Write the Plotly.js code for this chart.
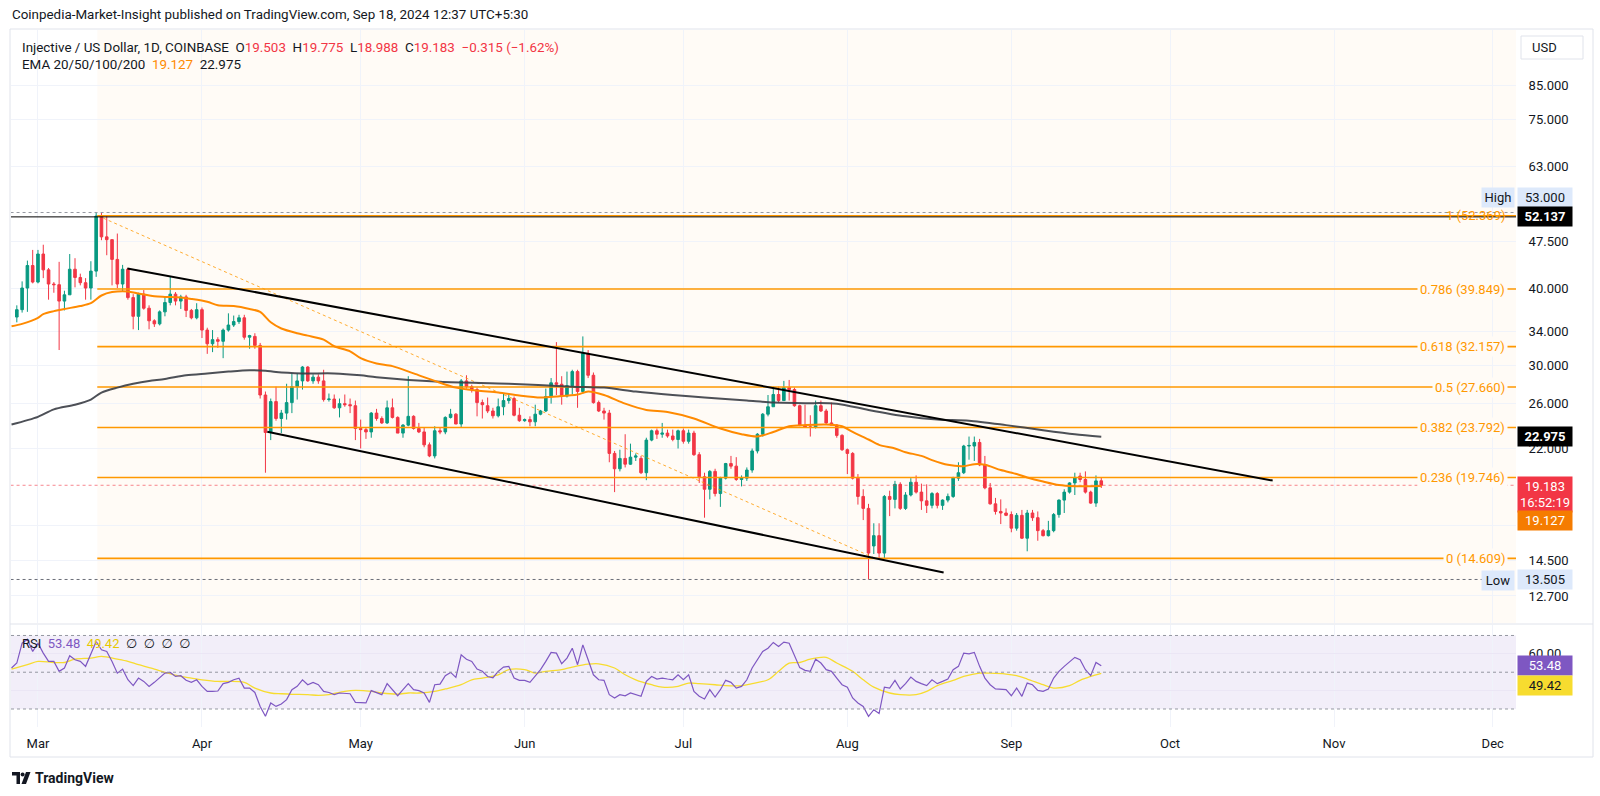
<!DOCTYPE html>
<html>
<head>
<meta charset="utf-8">
<script src="https://cdn.plot.ly/plotly-3.0.1.min.js"></script>
<style>html,body{margin:0;padding:0;background:#fff;}#chart{width:1600px;height:796px;}</style>
</head>
<body>
<div id="chart"></div>
<script>
// ---------------- DATA ----------------
const firstCandleDate = '2024-02-26';
const open = [
35.9,36.9,40.0,43.5,40.9,45.4,42.8,40.6,40.5,38.1,
39.0,42.9,41.6,40.8,40.0,42.6,52.3,48.4,47.9,44.5,
40.6,42.9,38.6,36.0,39.1,37.1,35.4,35.0,36.6,37.9,
39.1,38.1,38.7,36.8,35.8,36.9,34.2,32.5,33.0,32.8,
34.2,34.85,35.3,35.8,33.3,33.4,32.3,26.85,23.35,26.2,
24.6,25.1,26.1,27.7,28.3,29.8,28.3,28.7,28.3,26.4,
26.45,25.6,26.0,25.9,25.8,23.7,23.6,23.4,25.1,24.6,
24.2,25.6,24.7,23.3,24.0,24.8,23.7,23.4,22.3,21.4,
23.5,23.4,24.7,25.0,24.1,28.3,27.7,27.4,26.1,25.8,
25.3,24.85,25.7,26.3,26.5,24.9,24.4,24.5,24.3,25.0,
25.3,26.7,28.1,27.95,26.75,27.8,29.3,27.2,31.35,28.9,
26.1,25.3,25.1,21.6,20.4,21.2,20.75,21.3,21.2,20.1,
22.7,23.5,23.2,23.3,23.05,22.75,23.5,22.6,23.3,21.5,
19.8,18.9,20.2,18.6,19.7,20.8,20.6,19.6,19.7,20.3,
21.8,23.2,25.0,25.7,26.9,26.3,27.6,27.4,25.8,24.0,
23.85,23.8,25.8,25.3,24.2,24.0,23.1,21.9,21.6,19.7,
18.4,17.6,15.3,15.9,14.9,18.4,18.2,19.25,17.6,18.5,
19.4,18.7,18.1,17.8,18.6,17.8,18.15,18.4,19.7,20.1,
22.2,22.2,22.5,20.7,19.0,17.9,17.4,17.3,17.2,16.35,
17.15,15.75,17.3,17.0,16.2,15.9,16.2,17.2,18.15,18.7,
19.35,19.85,19.6,18.7,17.95,19.503];
const high = [
37.5,41.0,44.3,46.1,46.1,47.0,43.1,40.9,44.1,39.6,
45.4,44.7,42.2,41.5,44.2,53.0,52.9,52.4,47.9,49.0,
43.6,43.1,39.1,39.3,39.7,37.5,35.6,36.8,38.8,41.7,
39.4,39.0,39.0,37.0,37.8,37.2,34.5,34.2,33.3,34.4,
36.4,36.1,36.2,36.2,33.6,33.8,32.6,27.2,26.5,27.7,
25.4,28.0,29.1,29.1,29.9,29.9,29.0,29.0,29.5,27.0,
26.9,26.5,26.9,26.5,26.3,24.5,23.8,25.2,25.5,24.8,
26.3,26.5,24.8,24.1,28.8,24.9,24.2,23.8,22.5,23.9,
23.8,24.8,25.5,25.1,28.5,28.9,27.9,27.6,26.4,26.6,
25.6,26.5,27.0,27.0,26.7,25.6,24.6,24.8,25.9,25.4,
27.5,28.6,32.7,28.8,29.3,29.5,29.5,33.4,31.75,29.2,
26.3,25.6,25.4,21.8,21.9,23.2,22.4,21.6,21.4,22.9,
23.6,23.7,24.2,23.6,23.6,23.6,23.7,23.6,23.5,21.7,
20.1,20.3,20.4,19.8,20.85,21.4,21.3,19.9,20.5,22.0,
23.3,25.1,26.85,27.7,27.7,28.3,28.4,27.6,25.9,25.9,
24.9,26.3,26.3,25.5,26.1,24.1,23.2,22.0,21.7,20.0,
18.9,17.9,16.65,16.65,18.5,18.8,19.5,19.4,18.7,19.7,
19.9,19.3,19.25,18.7,18.7,18.2,18.6,19.8,20.9,22.3,
23.0,23.0,22.8,21.4,19.35,18.3,18.2,17.6,17.4,17.3,
17.5,17.5,17.5,17.4,16.3,16.8,17.3,18.2,18.9,19.4,
20.1,20.1,20.2,18.8,19.9,19.775];
const low = [
35.2,36.5,36.6,40.7,40.7,41.5,38.3,39.3,31.75,36.8,
39.0,40.1,40.4,38.3,38.3,41.7,47.8,45.2,40.4,40.0,
39.5,38.3,34.3,34.2,36.9,34.3,34.6,34.8,36.0,37.5,
37.5,37.0,35.9,35.6,35.6,33.2,31.3,31.5,32.0,30.8,
34.0,34.6,35.0,33.0,31.9,31.9,26.5,20.1,22.7,24.4,
23.3,24.5,25.1,26.4,27.4,28.2,28.0,28.0,26.2,26.2,
25.5,24.7,25.7,25.1,22.7,22.0,22.8,22.9,24.4,24.1,
24.1,24.6,23.3,22.9,23.9,23.6,23.3,22.1,21.3,21.2,
23.2,23.2,24.6,24.1,23.8,27.5,27.1,24.8,24.6,25.1,
24.6,24.7,24.9,26.0,24.8,24.3,24.3,23.9,23.9,24.9,
25.2,26.0,26.85,25.9,26.6,26.9,25.6,27.0,28.6,26.0,
25.2,24.5,20.9,18.7,20.2,20.5,20.7,21.0,20.0,19.55,
22.6,22.8,22.9,22.9,22.6,22.0,22.4,22.4,21.4,19.35,
17.0,18.2,18.4,17.7,19.6,20.4,19.5,19.1,19.5,20.1,
21.6,23.0,24.8,25.7,26.1,26.3,26.3,25.7,23.9,23.8,
23.0,23.7,25.2,24.1,24.0,22.9,21.8,20.0,19.6,17.85,
16.85,13.505,14.85,14.6,14.6,17.1,17.6,17.5,17.5,18.4,
18.6,17.5,17.3,17.6,17.6,17.5,18.0,18.3,19.5,20.0,
21.1,21.0,20.6,18.9,17.85,17.2,16.6,17.1,16.1,16.2,
15.7,15.0,16.8,15.6,15.85,15.85,16.1,17.0,17.3,18.6,
18.5,19.4,18.6,17.9,17.7,18.988];
const close = [
36.9,40.0,43.5,40.9,45.4,42.8,40.6,40.5,38.1,39.0,
42.9,41.6,40.8,40.0,42.6,52.3,48.4,47.9,44.5,40.6,
42.9,38.6,36.0,39.1,37.1,35.4,35.0,36.6,37.9,39.1,
38.1,38.7,36.8,35.8,36.9,34.2,32.5,33.0,32.8,34.2,
34.85,35.3,35.8,33.3,33.5,32.3,26.85,23.35,26.2,24.6,
25.1,26.1,27.7,28.3,29.8,28.3,28.7,28.3,26.4,26.45,
25.6,26.0,25.9,25.8,23.7,23.6,23.4,25.1,24.6,24.2,
25.6,24.7,23.3,24.0,24.8,23.7,23.4,22.3,21.4,23.5,
23.4,24.7,25.0,24.1,28.3,27.7,27.4,26.1,25.9,25.3,
24.85,25.7,26.3,26.5,24.9,24.4,24.5,24.3,25.0,25.3,
26.7,28.1,27.95,26.75,27.8,29.3,27.2,31.35,28.9,26.1,
25.3,25.1,21.6,20.4,21.2,20.75,21.3,21.4,20.1,22.7,
23.5,23.2,23.3,23.05,22.75,23.5,22.6,23.3,21.5,19.8,
18.9,20.2,18.6,19.7,20.8,20.6,19.6,19.7,20.3,21.8,
23.2,25.0,25.7,26.9,26.3,27.6,27.4,25.8,24.0,23.8,
23.8,25.8,25.3,24.2,24.0,23.1,21.9,21.6,19.7,18.4,
17.6,14.9,15.9,14.9,18.4,18.2,19.25,17.6,18.5,19.4,
18.7,18.1,17.8,18.6,17.8,18.15,18.4,19.7,20.1,22.2,
22.25,22.5,20.7,19.0,17.9,17.4,17.3,17.15,16.35,17.15,
15.75,17.3,17.0,16.2,15.9,16.2,17.2,18.15,18.7,19.35,
19.75,19.6,18.7,17.95,19.498,19.183];

// EMA lines
const emaOrangeDates = ['2024-02-25','2024-02-27','2024-03-01','2024-03-02','2024-03-04','2024-03-06','2024-03-09','2024-03-11','2024-03-13','2024-03-15','2024-03-18','2024-03-20','2024-03-23','2024-03-25','2024-03-28','2024-03-30','2024-04-02','2024-04-04','2024-04-07','2024-04-10','2024-04-12','2024-04-14','2024-04-16','2024-04-19','2024-04-21','2024-04-24','2024-04-26','2024-04-29','2024-05-01','2024-05-04','2024-05-07','2024-05-11','2024-05-15','2024-05-19','2024-05-23','2024-05-27','2024-05-31','2024-06-04','2024-06-07','2024-06-11','2024-06-13','2024-06-16','2024-06-20','2024-06-24','2024-06-28','2024-07-03','2024-07-08','2024-07-12','2024-07-15','2024-07-18','2024-07-21','2024-07-24','2024-07-28','2024-07-31','2024-08-02','2024-08-05','2024-08-07','2024-08-10','2024-08-12','2024-08-15','2024-08-17','2024-08-20','2024-08-23','2024-08-25','2024-08-27','2024-08-30','2024-09-02','2024-09-04','2024-09-07','2024-09-10','2024-09-13','2024-09-16','2024-09-18'];
const emaOrangeValues = [34.7,35.0,35.8,36.3,36.7,37.0,37.4,37.8,38.9,39.4,39.5,39.2,38.8,38.7,38.6,38.4,38.0,37.5,37.4,37.0,36.6,35.2,34.4,33.8,33.5,33.0,32.2,31.6,30.8,30.2,29.9,29.1,28.3,27.6,27.3,27.1,26.8,26.6,26.7,26.9,27.2,26.85,26.0,25.4,25.2,24.6,23.7,23.2,23.0,23.4,23.9,24.0,24.05,23.9,23.4,22.75,22.3,22.0,21.7,21.4,21.07,20.7,20.6,20.75,20.7,20.3,20.0,19.75,19.45,19.2,19.12,19.12,19.127];
const emaBlackDates = ['2024-02-25','2024-03-01','2024-03-04','2024-03-08','2024-03-11','2024-03-13','2024-03-16','2024-03-19','2024-03-22','2024-03-25','2024-03-29','2024-04-02','2024-04-06','2024-04-10','2024-04-13','2024-04-15','2024-04-20','2024-04-26','2024-05-01','2024-05-04','2024-05-16','2024-05-29','2024-06-10','2024-06-16','2024-06-22','2024-06-29','2024-07-05','2024-07-13','2024-07-18','2024-07-24','2024-07-30','2024-08-05','2024-08-12','2024-08-18','2024-08-24','2024-08-31','2024-09-07','2024-09-13','2024-09-18'];
const emaBlackValues = [24.05,24.75,25.45,25.9,26.4,27.1,27.6,28.0,28.3,28.5,28.9,29.1,29.3,29.45,29.4,29.25,29.1,29.1,28.9,28.7,28.2,28.0,27.7,27.6,27.2,26.85,26.6,26.3,26.1,26.05,26.0,25.4,24.8,24.5,24.4,24.0,23.55,23.2,22.975];

// RSI (daily) and its moving average
const rsiFirstDate = '2024-02-25';
const rsiValues = [
52.3,55.0,65.8,68.0,61.3,65.8,60.4,55.9,55.9,50.5,
52.3,59.0,56.8,55.9,53.2,60.4,66.7,62.2,61.3,55.9,
49.5,51.7,45.9,42.7,46.8,45.0,42.3,44.5,46.8,49.5,
49.9,47.7,48.1,45.6,44.5,45.9,42.3,39.6,39.6,39.8,
43.8,44.5,45.9,46.8,41.4,41.4,39.0,31.4,26.0,33.3,
31.4,32.7,35.1,40.5,42.3,45.9,43.2,44.5,43.2,39.6,
39.0,37.8,38.7,38.7,38.3,33.6,33.3,33.3,40.0,39.0,
37.8,43.8,40.5,37.2,40.5,43.8,40.5,40.0,38.7,33.6,
43.2,43.5,48.1,49.9,47.2,59.5,57.1,55.9,51.7,50.5,
47.7,47.0,50.5,52.8,53.2,46.8,45.6,45.6,44.5,47.7,
51.4,55.9,60.8,60.4,54.6,57.7,63.1,54.1,64.9,56.8,
48.6,45.9,45.6,37.8,36.0,37.8,37.2,38.7,37.8,36.9,
45.0,47.7,46.3,46.8,46.3,45.9,48.6,45.9,48.6,39.6,
36.9,35.4,40.5,36.5,40.5,45.6,44.5,41.4,42.3,45.9,
52.3,56.8,61.3,63.1,66.2,64.0,66.4,65.8,59.0,52.5,
51.0,50.5,57.1,55.0,51.4,50.5,46.8,43.2,41.9,36.0,
33.3,31.4,26.0,29.6,27.5,41.9,41.4,45.6,40.9,43.8,
47.4,45.0,43.8,42.7,45.9,43.8,45.0,46.3,51.4,53.2,
60.4,60.0,60.8,53.2,46.8,43.2,40.9,40.9,40.5,37.2,
41.4,36.9,44.1,43.2,40.1,39.6,40.9,46.8,50.5,53.2,
55.9,58.1,56.8,51.4,48.1,55.3,53.48];
const rsiMaDates = ['2024-02-25','2024-02-28','2024-03-01','2024-03-04','2024-03-06','2024-03-08','2024-03-11','2024-03-13','2024-03-16','2024-03-18','2024-03-20','2024-03-23','2024-03-25','2024-03-28','2024-03-30','2024-04-01','2024-04-04','2024-04-06','2024-04-09','2024-04-11','2024-04-14','2024-04-16','2024-04-18','2024-04-21','2024-04-23','2024-04-25','2024-04-28','2024-04-30','2024-05-03','2024-05-05','2024-05-08','2024-05-10','2024-05-12','2024-05-15','2024-05-17','2024-05-20','2024-05-22','2024-05-24','2024-05-27','2024-05-29','2024-06-01','2024-06-03','2024-06-05','2024-06-08','2024-06-10','2024-06-13','2024-06-15','2024-06-18','2024-06-20','2024-06-22','2024-06-25','2024-06-27','2024-06-30','2024-07-02','2024-07-04','2024-07-07','2024-07-09','2024-07-12','2024-07-14','2024-07-17','2024-07-19','2024-07-21','2024-07-23','2024-07-25','2024-07-28','2024-07-30','2024-08-02','2024-08-04','2024-08-06','2024-08-09','2024-08-11','2024-08-14','2024-08-16','2024-08-18','2024-08-21','2024-08-23','2024-08-26','2024-08-28','2024-08-31','2024-09-02','2024-09-04','2024-09-07','2024-09-09','2024-09-12','2024-09-14','2024-09-16','2024-09-18'];
const rsiMaValues = [51.7,54.1,55.9,55.3,55.3,57.1,57.7,58.6,57.1,55.9,54.1,51.7,49.9,47.7,46.8,45.9,45.0,45.0,44.5,41.4,38.7,38.3,38.0,37.8,37.4,37.8,39.6,40.1,39.6,38.7,38.1,38.7,38.7,39.6,40.9,43.2,45.9,46.8,48.6,51.4,51.4,49.5,50.5,51.4,52.8,54.4,54.6,52.3,48.6,45.9,43.2,41.9,42.3,44.1,43.8,43.2,42.7,42.7,43.8,45.9,50.5,55.0,55.3,57.1,58.1,55.0,50.5,45.9,41.9,38.7,37.8,37.8,39.6,42.7,45.6,47.7,49.5,49.5,49.0,48.1,46.3,43.2,41.4,42.7,45.6,47.7,49.42];

// Drawings
const fibRatios = ['1','0.786','0.618','0.5','0.382','0.236','0'];
const fibPrices = [52.369, 39.849, 32.157, 27.660, 23.792, 19.746, 14.609];
const fibStartDate = '2024-03-12 05:00';
const fibTrendDates = ['2024-03-12 07:12', '2024-08-06 07:12'];
const fibTrendPrices = [52.369, 14.609];
const channelUpperDates = ['2024-03-17 21:36', '2024-10-20 09:36'];
const channelUpperPrices = [43.03, 19.52];
const channelLowerDates = ['2024-04-13 08:24', '2024-08-19 04:48'];
const channelLowerPrices = [23.42, 13.86];
const hLinePrice = 52.137;
const emaOrangeLast = 19.127;
const emaBlackLast = 22.975;
const priceTicks = [12.7, 14.5, 16.5, 22, 26, 30, 34, 40, 47.5, 63, 75, 85];
const rsiTicks = [40, 60];
const rsiLevels = [30, 50, 70];

// ---------------- HELPERS ----------------
function addDays(iso, n) {
  return new Date(Date.parse(iso + 'T00:00:00Z') + n * 86400000).toISOString().slice(0, 10);
}
const candleDates = open.map((_, i) => addDays(firstCandleDate, i));
const rsiDates = rsiValues.map((_, i) => addDays(rsiFirstDate, i));
const X0 = '2024-02-24 21:36', X1 = '2024-12-05 09:36', XFAR0 = '2024-02-01', XFAR1 = '2024-12-31';
const X = px => (px - 11) / 1505;   // pixel -> paper
const Y = py => (727 - py) / 697;
const lg = v => Math.log10(v);

const GREEN = '#089981', RED = '#f23645', ORANGE = '#ff9800', PURPLE = '#7e57c2', YELLOW = '#f7dc2f';
const FONT = 'Roboto, "Noto Sans", "DejaVu Sans", sans-serif';

const lastClose = close[close.length - 1];
const hiVal = Math.max(...high), loVal = Math.min(...low);

// ---------------- TRACES ----------------
const traces = [];
traces.push({
  type: 'candlestick', x: candleDates, open: open, high: high, low: low, close: close,
  increasing: {line: {color: GREEN, width: 1}, fillcolor: GREEN},
  decreasing: {line: {color: RED, width: 1}, fillcolor: RED},
  whiskerwidth: 0, hoverinfo: 'skip', xaxis: 'x', yaxis: 'y'
});
const fx = [], fy = [];
fibPrices.forEach(p => { fx.push(fibStartDate, XFAR1, null); fy.push(p, p, null); });
traces.push({type: 'scatter', mode: 'lines', x: fx, y: fy, line: {color: ORANGE, width: 1.6}, hoverinfo: 'skip'});
traces.push({type: 'scatter', mode: 'lines', x: fibTrendDates, y: fibTrendPrices, line: {color: ORANGE, width: 1, dash: 'dot'}, opacity: 0.8, hoverinfo: 'skip'});
traces.push({type: 'scatter', mode: 'lines', x: [XFAR0, XFAR1], y: [hiVal, hiVal], line: {color: '#9598a1', width: 1, dash: 'dot'}, hoverinfo: 'skip'});
traces.push({type: 'scatter', mode: 'lines', x: [XFAR0, XFAR1], y: [loVal, loVal], line: {color: '#6a6d78', width: 1, dash: 'dot'}, hoverinfo: 'skip'});
traces.push({type: 'scatter', mode: 'lines', x: [XFAR0, XFAR1], y: [lastClose, lastClose], line: {color: RED, width: 1, dash: 'dot'}, opacity: 0.6, hoverinfo: 'skip'});
traces.push({type: 'scatter', mode: 'lines', x: [XFAR0, XFAR1], y: [hLinePrice, hLinePrice], line: {color: '#000', width: 1}, hoverinfo: 'skip'});
traces.push({type: 'scatter', mode: 'lines', x: emaBlackDates, y: emaBlackValues, line: {color: '#3a3d45', width: 2, shape: 'spline', smoothing: 0.8}, opacity: 0.9, hoverinfo: 'skip'});
traces.push({type: 'scatter', mode: 'lines', x: emaOrangeDates, y: emaOrangeValues, line: {color: '#ff8a00', width: 2, shape: 'spline', smoothing: 0.8}, hoverinfo: 'skip'});
traces.push({type: 'scatter', mode: 'lines', x: channelUpperDates, y: channelUpperPrices, line: {color: '#000', width: 2}, hoverinfo: 'skip'});
traces.push({type: 'scatter', mode: 'lines', x: channelLowerDates, y: channelLowerPrices, line: {color: '#000', width: 2}, hoverinfo: 'skip'});
traces.push({type: 'scatter', mode: 'lines', x: rsiMaDates, y: rsiMaValues, xaxis: 'x', yaxis: 'y2', line: {color: YELLOW, width: 1.3, shape: 'spline', smoothing: 0.9}, hoverinfo: 'skip'});
traces.push({type: 'scatter', mode: 'lines', x: rsiDates, y: rsiValues, xaxis: 'x', yaxis: 'y2', line: {color: PURPLE, width: 1.2}, hoverinfo: 'skip'});

// ---------------- SHAPES ----------------
const shapes = [];
shapes.push({type: 'rect', xref: 'x', yref: 'y domain', x0: fibStartDate, x1: XFAR1, y0: 0, y1: 1, fillcolor: 'rgba(255,152,0,0.035)', line: {width: 0}, layer: 'below'});
shapes.push({type: 'rect', xref: 'x domain', yref: 'y2', x0: 0, x1: 1, y0: rsiLevels[0], y1: rsiLevels[2], fillcolor: 'rgba(126,87,194,0.10)', line: {width: 0}, layer: 'below'});
rsiLevels.forEach(l => shapes.push({type: 'line', xref: 'x domain', yref: 'y2', x0: 0, x1: 1, y0: l, y1: l, line: {color: '#9598a1', width: 1, dash: '3px,3px'}}));
shapes.push({type: 'line', xref: 'paper', yref: 'paper', x0: X(10), x1: X(1593), y0: Y(624), y1: Y(624), line: {color: '#e0e3eb', width: 1}});
shapes.push({type: 'rect', xref: 'paper', yref: 'paper', x0: X(10), x1: X(1593), y0: Y(757), y1: Y(29), line: {color: '#e0e3eb', width: 1}, fillcolor: 'rgba(0,0,0,0)'});
shapes.push({type: 'rect', xref: 'paper', yref: 'paper', x0: X(1521), x1: X(1583), y0: Y(59), y1: Y(36), line: {color: '#e0e3eb', width: 1}, fillcolor: '#fff'});
const P = (pts) => 'M ' + pts.map(p => X(p[0]) + ',' + Y(p[1])).join(' L ') + ' Z';
shapes.push({type: 'path', xref: 'paper', yref: 'paper', path: P([[12,772],[20,772],[20,784],[16.5,784],[16.5,775.5],[12,775.5]]), fillcolor: '#131722', line: {width: 0}});
shapes.push({type: 'circle', xref: 'paper', yref: 'paper', x0: X(20.6), x1: X(24.6), y0: Y(776.5), y1: Y(772.5), fillcolor: '#131722', line: {width: 0}});
shapes.push({type: 'path', xref: 'paper', yref: 'paper', path: P([[26,772],[30.5,772],[26,784],[21.5,784]]), fillcolor: '#131722', line: {width: 0}});

// ---------------- ANNOTATIONS ----------------
const ann = [];
const txt = (text, px, py, opts) => Object.assign({xref: 'paper', yref: 'paper', x: X(px), y: Y(py), xanchor: 'left', yanchor: 'middle', text: text, showarrow: false, font: {family: FONT, size: 13, color: '#131722'}}, opts || {});
const HF = {font: {family: FONT, size: 13.4, color: '#131722'}};
const red = s => '<span style="color:' + RED + '">' + s + '</span>';
const sp = '\u00a0\u00a0';
ann.push(txt('Coinpedia-Market-Insight published on TradingView.com, Sep 18, 2024 12:37 UTC+5:30', 10, 14, HF));
ann.push(txt('Injective / US Dollar, 1D, COINBASE' + sp + 'O' + red(open[open.length-1].toFixed(3)) + sp + 'H' + red(high[high.length-1].toFixed(3)) + sp + 'L' + red(low[low.length-1].toFixed(3)) + sp + 'C' + red(lastClose.toFixed(3)) + sp + red('\u22120.315 (\u22121.62%)'), 20, 47, HF));
ann.push(txt('EMA 20/50/100/200' + sp + '<span style="color:#ff8a00">' + emaOrangeLast.toFixed(3) + '</span>' + sp + emaBlackLast.toFixed(3), 20, 65, HF));
ann.push(txt('RSI' + sp + '<span style="color:' + PURPLE + '">' + rsiValues[rsiValues.length-1].toFixed(2) + '</span>' + sp + '<span style="color:#e6c800">' + rsiMaValues[rsiMaValues.length-1].toFixed(2) + '</span>' + sp + '\u2205' + sp + '\u2205' + sp + '\u2205' + sp + '\u2205', 20, 643));
ann.push(txt('<b>TradingView</b>', 33, 778, {font: {family: FONT, size: 14, color: '#131722'}}));
ann.push(txt('USD', 1530, 47.5));
fibPrices.forEach((p, i) => ann.push({xref: 'paper', yref: 'y', x: 1, xanchor: 'right', xshift: -8, y: lg(p), yanchor: 'middle', text: fibRatios[i] + ' (' + p.toFixed(3) + ')', showarrow: false, font: {family: FONT, size: 13, color: ORANGE}, bgcolor: i === 0 ? 'rgba(0,0,0,0)' : '#fffbf6', borderpad: 2}));
const box = (text, yref, y, bg, fg, o) => Object.assign({xref: 'paper', x: 1, xanchor: 'left', xshift: 1, yref: yref, y: y, yanchor: 'middle', text: text, showarrow: false, bgcolor: bg, width: 52, height: 17, align: 'center', font: {family: FONT, size: 13, color: fg}, borderpad: 1}, o || {});
ann.push(box('High', 'paper', Y(197), '#dde9fb', '#131722', {xanchor: 'right', xshift: -1, width: 30}));
ann.push(box(hiVal.toFixed(3), 'paper', Y(197), '#dde9fb', '#131722'));
ann.push(box(hLinePrice.toFixed(3), 'y', lg(hLinePrice), '#000', '#fff', {font: {family: FONT, size: 13, color: '#fff', weight: 'bold'}}));
ann.push(box(emaBlackLast.toFixed(3), 'y', lg(emaBlackLast), '#000', '#fff', {font: {family: FONT, size: 13, color: '#fff', weight: 'bold'}}));
ann.push(box(lastClose.toFixed(3) + '<br>16:52:19', 'y', lg(lastClose), RED, '#fff', {yanchor: 'top', yshift: 9, height: 33}));
ann.push(box(emaOrangeLast.toFixed(3), 'paper', Y(520), '#f57c00', '#fff'));
ann.push(box('Low', 'paper', Y(580.5), '#dde9fb', '#131722', {xanchor: 'right', xshift: -1, width: 30}));
ann.push(box(loVal.toFixed(3), 'y', lg(loVal), '#dde9fb', '#131722'));
ann.push(box(rsiValues[rsiValues.length-1].toFixed(2), 'y2', rsiValues[rsiValues.length-1], PURPLE, '#fff'));
ann.push(box(rsiMaValues[rsiMaValues.length-1].toFixed(2), 'paper', Y(685.5), YELLOW, '#131722'));

// ---------------- LAYOUT ----------------
const layout = {
  width: 1600, height: 796,
  margin: {l: 11, r: 84, t: 30, b: 69, pad: 0},
  paper_bgcolor: '#ffffff', plot_bgcolor: '#ffffff',
  showlegend: false, hovermode: false, dragmode: false,
  font: {family: FONT, size: 13, color: '#131722'},
  xaxis: {type: 'date', range: [X0, X1], anchor: 'y2', tickformat: '%b', dtick: 'M1', tick0: '2024-03-01',
    showgrid: true, gridcolor: '#f0f3fa', gridwidth: 1, zeroline: false, showline: false,
    ticks: 'outside', ticklen: 4, tickcolor: 'rgba(0,0,0,0)', tickfont: {family: FONT, size: 13, color: '#131722'},
    rangeslider: {visible: false}, fixedrange: true},
  yaxis: {type: 'log', domain: [0.14921, 1], range: [1.06006, 2.01954], side: 'right', anchor: 'x',
    tickvals: priceTicks, ticktext: priceTicks.map(v => v.toFixed(3)),
    showgrid: true, gridcolor: '#f0f3fa', zeroline: false, showline: false,
    ticks: 'outside', ticklen: 9, tickcolor: 'rgba(0,0,0,0)', tickfont: {family: FONT, size: 13, color: '#131722'}, fixedrange: true},
  yaxis2: {domain: [0, 0.14634], range: [20.2, 75.7], side: 'right', anchor: 'x',
    tickvals: rsiTicks, ticktext: rsiTicks.map(v => v.toFixed(2)),
    showgrid: true, gridcolor: '#ebe6f5', zeroline: false, showline: false,
    ticks: 'outside', ticklen: 9, tickcolor: 'rgba(0,0,0,0)', tickfont: {family: FONT, size: 13, color: '#131722'}, fixedrange: true},
  shapes: shapes,
  annotations: ann
};

Plotly.newPlot('chart', traces, layout, {displayModeBar: false, staticPlot: true});
</script>
</body>
</html>
